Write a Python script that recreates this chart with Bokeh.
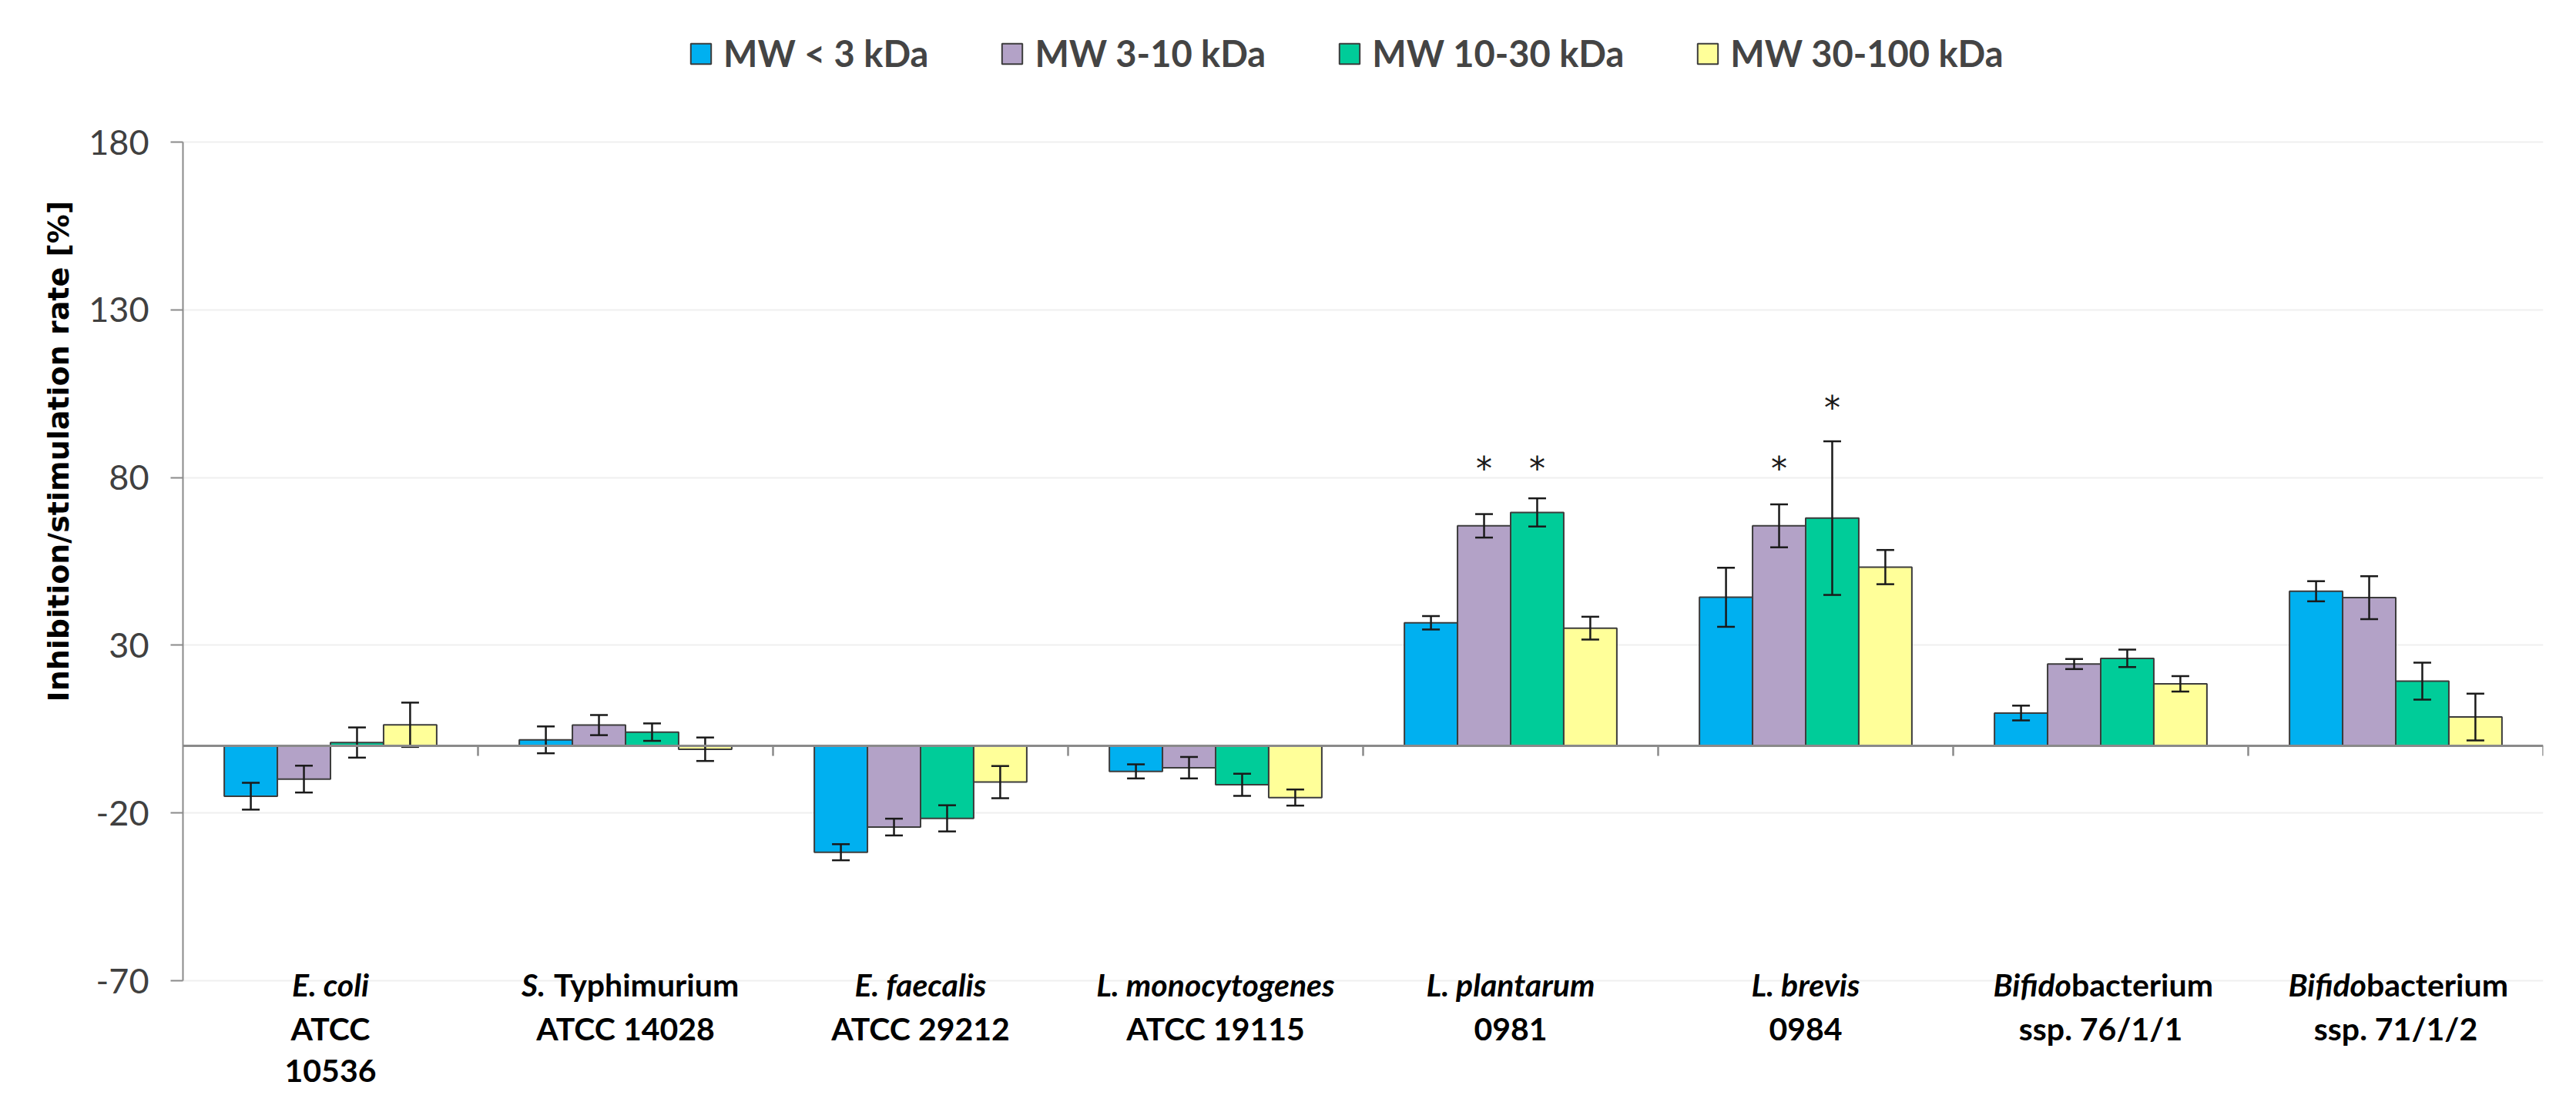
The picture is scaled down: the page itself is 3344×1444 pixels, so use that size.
import math
from bokeh.plotting import figure
from bokeh.models import (ColumnDataSource, FactorRange, Range1d, FixedTicker,
                          Legend, LegendItem, LabelSet, Span, Title)
from bokeh.transform import dodge
from bokeh.core.properties import value
from bokeh.embed import file_html
from bokeh.resources import INLINE

# ---------------- data ----------------
categories = ["E. coli ATCC 10536", "S. Typhimurium ATCC 14028", "E. faecalis ATCC 29212",
              "L. monocytogenes ATCC 19115", "L. plantarum 0981", "L. brevis 0984",
              "Bifidobacterium ssp. 76/1/1", "Bifidobacterium ssp. 71/1/2"]
series = ["MW < 3 kDa", "MW 3-10 kDa", "MW 10-30 kDa", "MW 30-100 kDa"]

mw_lt3 = [-15.0, 1.8, -31.7, -7.6, 36.7, 44.3, 9.8, 46.1]
mw_lt3_err = [4.0, 4.0, 2.4, 2.1, 2.0, 8.8, 2.2, 3.0]
mw_3_10 = [-9.9, 6.2, -24.2, -6.5, 65.6, 65.6, 24.4, 44.2]
mw_3_10_err = [4.0, 3.0, 2.5, 3.2, 3.5, 6.4, 1.5, 6.4]
mw_10_30 = [1.0, 4.1, -21.6, -11.6, 69.6, 67.9, 26.1, 19.3]
mw_10_30_err = [4.5, 2.6, 3.9, 3.3, 4.2, 22.9, 2.6, 5.5]
mw_30_100 = [6.3, -1.0, -10.8, -15.4, 35.1, 53.3, 18.5, 8.6]
mw_30_100_err = [6.6, 3.5, 4.8, 2.4, 3.4, 5.1, 2.3, 7.0]

# significance marks (category, series index, y of the asterisk)
star_cat = ["L. plantarum 0981", "L. plantarum 0981", "L. brevis 0984", "L. brevis 0984"]
star_series = [1, 2, 1, 2]
star_y = [85, 85, 85, 103]

# category labels
label_italic = ["E. coli", "S.", "E. faecalis", "L. monocytogenes", "L. plantarum",
                "L. brevis", "Bifido", "Bifido"]
label_roman = ["", "Typhimurium", "", "", "", "", "bacterium", "bacterium"]
label_line2 = ["ATCC", "ATCC 14028", "ATCC 29212", "ATCC 19115", "0981", "0984",
               "ssp. 76/1/1", "ssp. 71/1/2"]
label_line3 = ["10536", "", "", "", "", "", "", ""]

y_ticks = [-70, -20, 30, 80, 130, 180]
y_title = "Inhibition/stimulation rate [%]"

# ---------------- style / layout ----------------
colors = ["#00B0F0", "#B3A2C7", "#00CC99", "#FFFF99"]
offsets = [-0.27, -0.09, 0.09, 0.27]
bar_w = 0.18
values_all = [mw_lt3, mw_3_10, mw_10_30, mw_30_100]
errs_all = [mw_lt3_err, mw_3_10_err, mw_10_30_err, mw_30_100_err]

W, H = 3336, 1436
axis_top_px, axis_bottom_px = 184, 1273          # where 180 and -70 sit on the page
ppu = (axis_bottom_px - axis_top_px) / (y_ticks[-1] - y_ticks[0])
y_hi = y_ticks[-1] + axis_top_px / ppu
y_lo = y_ticks[0] - (H - axis_bottom_px) / ppu

p = figure(x_range=FactorRange(factors=categories), y_range=Range1d(y_lo, y_hi),
           width=W, height=H, output_backend="svg", toolbar_location=None,
           min_border_left=237, min_border_right=35, min_border_top=0, min_border_bottom=0)
p.outline_line_color = None
p.xaxis.visible = False
p.xgrid.grid_line_color = None
p.ygrid.ticker = FixedTicker(ticks=y_ticks)
p.ygrid.grid_line_color = "#EFEFEF"
p.ygrid.grid_line_width = 2

yax = p.yaxis[0]
yax.ticker = FixedTicker(ticks=y_ticks)
yax.bounds = (y_ticks[0], y_ticks[-1])
yax.major_label_overrides = {t: str(t) for t in y_ticks}
yax.axis_line_color = "#8A8A8A"
yax.axis_line_width = 2
yax.major_tick_line_color = "#8A8A8A"
yax.major_tick_line_width = 2
yax.major_tick_out = 16
yax.major_tick_in = 0
yax.minor_tick_line_color = None
yax.major_label_text_font = "Lato"
yax.major_label_text_font_size = "45px"
yax.major_label_text_color = "#404040"
yax.major_label_standoff = 28

renderers = []
for s, (vals, errs) in enumerate(zip(values_all, errs_all)):
    src = ColumnDataSource(dict(
        cat=categories, top=vals,
        lo=[v - e for v, e in zip(vals, errs)],
        hi=[v + e for v, e in zip(vals, errs)]))
    xd = dodge("cat", offsets[s], range=p.x_range)
    r = p.vbar(x=xd, top="top", bottom=0, width=bar_w, source=src,
               fill_color=colors[s], line_color="#3C3C3C", line_width=2)
    renderers.append(r)
    p.segment(x0=xd, x1=xd, y0="lo", y1="hi", source=src, line_color="#1A1A1A", line_width=2.5)
    p.scatter(x=xd, y="lo", source=src, marker="dash", size=23, line_color="#1A1A1A", line_width=2.5)
    p.scatter(x=xd, y="hi", source=src, marker="dash", size=23, line_color="#1A1A1A", line_width=2.5)

# zero line with category separators
p.add_layout(Span(location=0, dimension="width", line_color="#8A8A8A", line_width=3))
bounds = list(range(1, len(categories) + 1))
p.segment(x0=bounds, x1=bounds, y0=[0] * len(bounds), y1=[-13 / ppu] * len(bounds),
          line_color="#8A8A8A", line_width=2.5)

# asterisks
for s in sorted(set(star_series)):
    idx = [i for i, ss in enumerate(star_series) if ss == s]
    ssrc = ColumnDataSource(dict(cat=[star_cat[i] for i in idx], y=[star_y[i] for i in idx],
                                 t=["*"] * len(idx)))
    p.text(x=dodge("cat", offsets[s], range=p.x_range), y="y", text="t", source=ssrc,
           text_font=value("DejaVu Sans"), text_font_size="42px", text_align="center",
           text_baseline="middle", y_offset=10, text_color="#1A1A1A")

# category labels
ymin = y_ticks[0]
join_off = {1: -104, 6: -38, 7: -38}
plain = [i for i in range(len(categories)) if label_roman[i] == ""]
mixed = [i for i in range(len(categories)) if label_roman[i] != ""]
font_kw = dict(text_font=value("Lato"), text_font_size="41px", text_color="#000000")

src_plain = ColumnDataSource(dict(cat=[categories[i] for i in plain],
                                  t=[label_italic[i] for i in plain], y=[ymin] * len(plain)))
p.add_layout(LabelSet(x="cat", y="y", text="t", source=src_plain, text_align="center",
                      text_baseline="alphabetic", y_offset=-20, text_font_style="bold italic", **font_kw))
src_mi = ColumnDataSource(dict(cat=[categories[i] for i in mixed],
                               t=[label_italic[i] for i in mixed], y=[ymin] * len(mixed),
                               xo=[join_off[i] for i in mixed]))
p.add_layout(LabelSet(x="cat", y="y", text="t", source=src_mi, text_align="right", x_offset="xo",
                      text_baseline="alphabetic", y_offset=-20, text_font_style="bold italic", **font_kw))
src_mr = ColumnDataSource(dict(cat=[categories[i] for i in mixed],
                               t=[label_roman[i] for i in mixed], y=[ymin] * len(mixed),
                               xo=[join_off[i] + (11 if label_roman[i][0].isupper() else 0) for i in mixed]))
p.add_layout(LabelSet(x="cat", y="y", text="t", source=src_mr, text_align="left", x_offset="xo",
                      text_baseline="alphabetic", y_offset=-20, text_font_style="bold", **font_kw))
src_l2 = ColumnDataSource(dict(cat=categories, t=label_line2, y=[ymin] * len(categories)))
p.add_layout(LabelSet(x="cat", y="y", text="t", source=src_l2, text_align="center",
                      text_baseline="alphabetic", y_offset=-77, text_font_style="bold", **font_kw))
src_l3 = ColumnDataSource(dict(cat=categories, t=label_line3, y=[ymin] * len(categories)))
p.add_layout(LabelSet(x="cat", y="y", text="t", source=src_l3, text_align="center",
                      text_baseline="alphabetic", y_offset=-131, text_font_style="bold", **font_kw))

# y-axis title (starts at page y ~911 like the reference, reads upward)
p.add_layout(Title(text=y_title, align="left", offset=H - 911, standoff=30,
                   text_font="DejaVu Sans", text_font_style="bold", text_font_size="38px",
                   text_color="#000000"), "left")

# legend
legend = Legend(items=[LegendItem(label=series[i], renderers=[renderers[i]]) for i in range(4)],
                orientation="horizontal", location=(656, H - 97), padding=0, spacing=92,
                glyph_width=33, glyph_height=33, label_standoff=13,
                label_text_font="Lato", label_text_font_style="bold", label_text_font_size="47px",
                border_line_color=None, background_fill_alpha=0, label_height=33)
p.add_layout(legend)

open("out.html", "w").write(file_html(p, INLINE))
